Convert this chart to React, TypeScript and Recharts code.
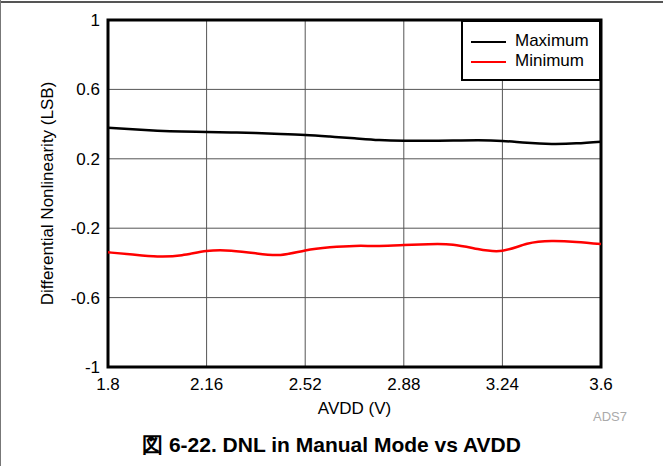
import React from 'react';
import { LineChart, Line, XAxis, YAxis, CartesianGrid, ReferenceArea, Legend } from 'recharts';

const avdd = [1.8, 1.89, 1.98, 2.07, 2.16, 2.25, 2.34, 2.43, 2.52, 2.61, 2.7, 2.79, 2.88, 2.97, 3.06, 3.15, 3.24, 3.33, 3.42, 3.51, 3.6];
const dnlMax = [0.379, 0.37, 0.362, 0.357, 0.355, 0.352, 0.348, 0.343, 0.337, 0.328, 0.318, 0.308, 0.304, 0.304, 0.305, 0.307, 0.303, 0.292, 0.286, 0.289, 0.299];
const dnlMin = [-0.339, -0.352, -0.363, -0.356, -0.332, -0.33, -0.345, -0.354, -0.328, -0.31, -0.302, -0.302, -0.297, -0.292, -0.295, -0.32, -0.33, -0.29, -0.274, -0.279, -0.291];
const xTicks = [1.8, 2.16, 2.52, 2.88, 3.24, 3.6];
const yTicks = [-1, -0.6, -0.2, 0.2, 0.6, 1];

const FONT = '"Liberation Sans", Arial, Helvetica, sans-serif';

const data = avdd.map((v, i) => ({ avdd: v, max: dnlMax[i], min: dnlMin[i] }));

const LegendBox = () => (
  <div style={{ width: 136, height: 57, border: '2px solid #000', background: '#fff', position: 'relative', fontFamily: FONT, fontSize: 17, color: '#000' }}>
    <div style={{ position: 'absolute', left: 8, top: 19, width: 35, height: 2, background: '#000' }} />
    <div style={{ position: 'absolute', left: 52, top: 9, lineHeight: '20px' }}>Maximum</div>
    <div style={{ position: 'absolute', left: 8, top: 39, width: 35, height: 2, background: '#ff0000' }} />
    <div style={{ position: 'absolute', left: 52, top: 29, lineHeight: '20px' }}>Minimum</div>
  </div>
);

export default function App() {
  return (
    <div style={{ position: 'fixed', left: 0, top: 0, width: 663, height: 466, background: '#fff', fontFamily: FONT }}>
      <div style={{ position: 'absolute', left: 0, top: 1, width: 663, height: 2, background: '#555' }} />
      <div style={{ position: 'absolute', left: 0, top: 0, width: 1, height: 466, background: '#777' }} />
      <LineChart width={663} height={466} data={data} margin={{ top: 20, right: 62, left: 8, bottom: 52 }}>
        <CartesianGrid stroke="#555" strokeWidth={1} horizontalValues={yTicks} verticalValues={xTicks} />
        <XAxis
          dataKey="avdd"
          type="number"
          domain={[1.8, 3.6]}
          ticks={xTicks}
          axisLine={false}
          tickLine={false}
          tickMargin={5}
          height={47}
          tick={{ fill: '#000', fontSize: 17, fontFamily: FONT }}
          label={{ value: 'AVDD (V)', position: 'insideBottom', offset: 0, fill: '#000', fontSize: 17, fontFamily: FONT }}
        />
        <YAxis
          type="number"
          domain={[-1, 1]}
          ticks={yTicks}
          axisLine={false}
          tickLine={false}
          width={100}
          tick={{ fill: '#000', fontSize: 17, fontFamily: FONT }}
          label={{ value: 'Differential Nonlinearity (LSB)', angle: -90, position: 'insideLeft', offset: 39, style: { textAnchor: 'middle' }, fill: '#000', fontSize: 17, fontFamily: FONT }}
        />
        <ReferenceArea x1={1.8} x2={3.6} y1={-1} y2={1} fill="none" stroke="#000" strokeWidth={3} ifOverflow="visible" />
        <Line type="natural" dataKey="max" stroke="#000" strokeWidth={2.5} dot={false} isAnimationActive={false} />
        <Line type="natural" dataKey="min" stroke="#ff0000" strokeWidth={2.5} dot={false} isAnimationActive={false} />
        <Legend layout="vertical" align="center" verticalAlign="middle" content={<LegendBox />} wrapperStyle={{ left: 461, top: 20, width: 140 }} />
      </LineChart>
      <div style={{ position: 'absolute', left: 593, top: 409, fontSize: 13, color: '#aaa' }}>ADS7</div>
      <div style={{ position: 'absolute', left: 0, width: 663, top: 431, textAlign: 'center', fontSize: 21, fontWeight: 'bold', color: '#000' }}>
        図 6-22. DNL in Manual Mode vs AVDD
      </div>
    </div>
  );
}
